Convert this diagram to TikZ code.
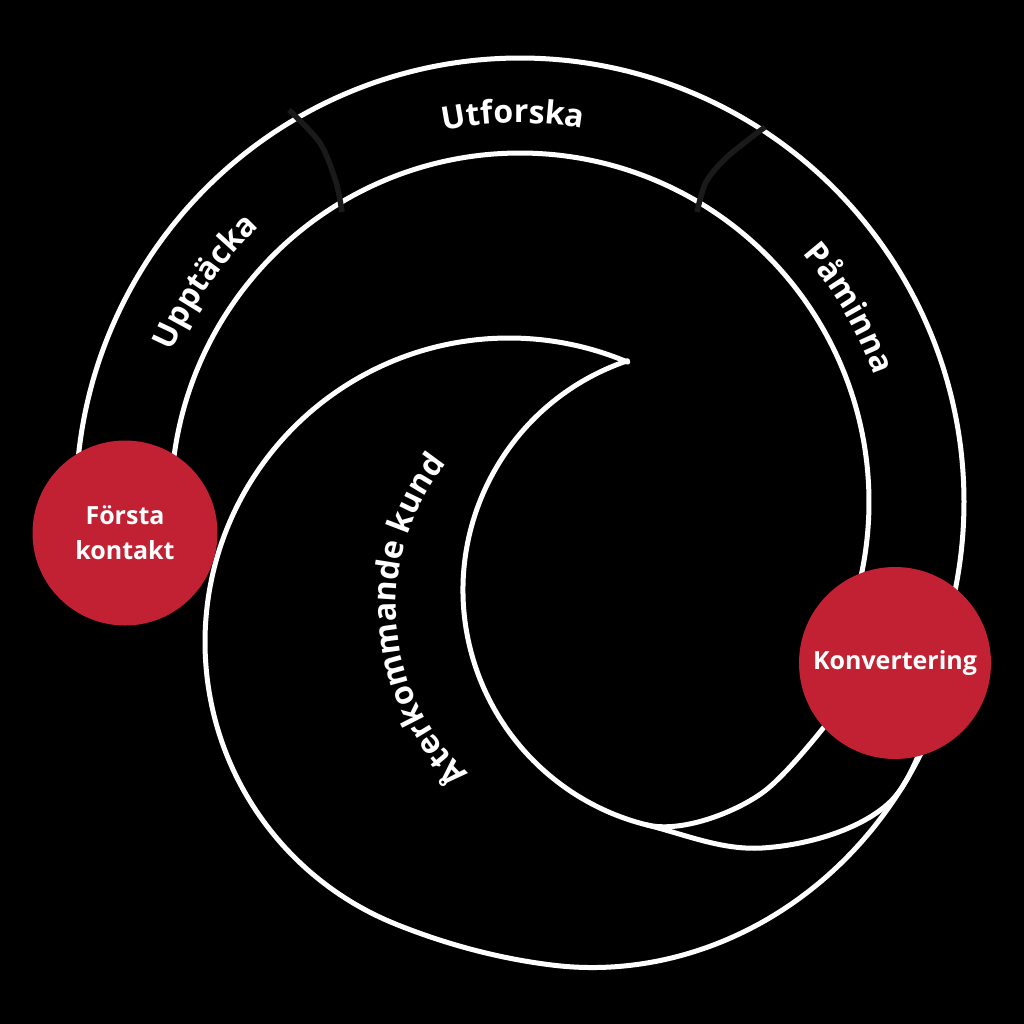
\documentclass[tikz,border=0pt]{standalone}
\usepackage{fontspec}
\setmainfont{Open Sans}
\usetikzlibrary{decorations.text}
\definecolor{crim}{RGB}{193,33,50}
\definecolor{sepgray}{RGB}{26,26,26}
\tikzset{
  wline/.style={draw=white, line width=5pt, line cap=round, line join=round},
  sepline/.style={draw=sepgray, line width=5.5pt},
  stage/.style={circle, fill=crim, inner sep=0pt, text=white, align=center,
    font=\bfseries\fontsize{25}{35}\selectfont},
  arclabel/.style={decorate, decoration={text along path, text align=center,
    text={|\bfseries\fontsize{32}{32}\selectfont\color{white}|#1}}}
}
\begin{document}
\begin{tikzpicture}[x=1pt,y=-1pt]
\fill[black] (0,0) rectangle (1024,1024);
\useasboundingbox (0,0) rectangle (1024,1024);
% ring arcs
\draw[wline] plot[domain=170:375, samples=150, smooth] ({520+444*cos(\x)},{502+444*sin(\x)});
\draw[wline] plot[domain=176:380, samples=150, smooth] ({520+349*cos(\x)},{502+349*sin(\x)});
% separators
\draw[sepline] plot[smooth] coordinates {(289,110) (320,143) (336,182) (342,212)};
\draw[sepline] plot[smooth] coordinates {(765,127) (727,157) (706,182) (697,212)};
% ring labels
\path[arclabel={Upptäcka}] ({520+379*cos(180)},{502+379*sin(180)}) arc[start angle=180, end angle=250, radius=379];
\path[arclabel={Utforska}] ({520+379*cos(234)},{502+379*sin(234)}) arc[start angle=234, end angle=304, radius=379];
\path[arclabel={Påminna}] ({520+376*cos(295)},{502+376*sin(295)}) arc[start angle=295, end angle=364, radius=376];
% crescent: outer spiral edge
\draw[wline] plot[domain=293:10, samples=200, smooth]
  ({509+(304+1.5*(pow(min(max(0,112-\x),30),2)/60+max(82-\x,0)))*cos(\x)},
   {642+(304+1.5*(pow(min(max(0,112-\x),30),2)/60+max(82-\x,0)))*sin(\x)});
% crescent: inner edge and lower sliver edge
\coordinate (tip) at ({705+242*cos(251.3)},{590+242*sin(251.3)});
\coordinate (junc) at ({705+242*cos(104)},{590+242*sin(104)});
\draw[wline] (tip) arc[start angle=251.3, end angle=104, radius=242]
  .. controls (685.3,834.5) and (722,850.4) .. (762,848)
  .. controls (807,845.3) and (859.6,830) .. (889,803)
  .. controls (907.4,786) and (916.7,758.2) .. (925,740);
% crescent: upper sliver edge into Konvertering
\draw[wline] (junc) .. controls (680.5,833.2) and (733.5,813.3) .. (762,793)
  .. controls (786.4,775.6) and (827,724) .. (845,700);
\path[arclabel={Återkommande kund}] ({624+228*cos(120)},{607+228*sin(120)}) arc[start angle=120, end angle=232, radius=228];
% stage nodes
\node[stage, minimum size=185pt] (forsta) at (125,533) {Första\\kontakt};
\node[stage, minimum size=192pt] (konv) at (895,663) {Konvertering};
\end{tikzpicture}
\end{document}
